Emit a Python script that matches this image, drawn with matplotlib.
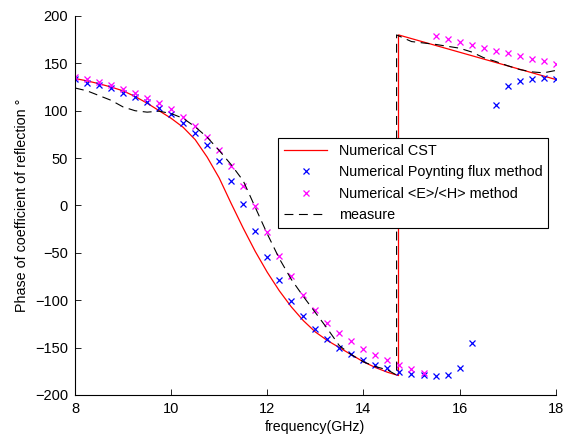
import matplotlib
matplotlib.use('Agg')
import matplotlib.pyplot as plt
import numpy as np

plt.rcParams['font.family'] = ['Liberation Sans', 'DejaVu Sans']

# marker frequencies (GHz)
freq = np.arange(8.0, 18.01, 0.25)

poynting = [133.2, 129.6, 127.2, 123.7, 119.1, 114.8, 109.6, 103.2, 96.3, 87.4,
            76.9, 63.5, 46.6, 25.9, 1.3, -26.6, -54.0, -78.6, -100.5, -116.6,
            -130.7, -141.2, -150.4, -156.7, -163.1, -168.0, -171.8, -175.4, -178.2, -179.2,
            -179.9, -178.6, -171.5, -144.8, np.nan, 106.1, 126.1, 131.7, 133.8, 134.2,
            133.2]

e_over_h = [135.9, 133.2, 130.7, 127.2, 123.0, 119.1, 113.8, 108.5, 101.6, 93.7,
            83.9, 72.0, 58.6, 41.3, 20.6, -0.5, -27.6, -53.3, -74.4, -94.5,
            -110.3, -123.7, -134.3, -143.4, -151.1, -157.5, -163.1, -168.0, -172.9, -177.1,
            179.2, 175.7, 172.6, 169.4, 166.5, 163.4, 160.6, 157.8, 154.9, 152.2,
            149.3]

# CST curve
cst_f = [8.0, 8.25, 8.5, 8.75, 9.0, 9.25, 9.5, 9.75, 10.0, 10.25, 10.5, 10.75,
         11.0, 11.25, 11.5, 11.75, 12.0, 12.25, 12.5, 12.75, 13.0, 13.25, 13.5,
         13.75, 14.0, 14.25, 14.5, 14.73, 14.73, 18.0]
cst_phase = [134, 131.5, 128.5, 125, 121, 115, 108, 100, 92, 82.5, 69.5, 51,
             29, 2, -24, -48.5, -70.5, -90, -107, -121.5, -133.5, -142.5, -150,
             -157.5, -165, -171, -176, -179.5, 180, 133]

# measurement
meas_f = [8.0, 8.25, 8.5, 8.75, 9.0, 9.25, 9.5, 9.75, 10.0, 10.25, 10.5, 10.75,
          11.0, 11.25, 11.5, 11.75, 12.0, 12.25, 12.5, 12.75, 13.0, 13.25, 13.5,
          13.75, 14.0, 14.25, 14.5, 14.69, 14.69, 15.0, 15.5, 16.0, 16.25, 16.5,
          16.75, 17.0, 17.25, 17.5, 17.75, 18.0]
meas_phase = [124, 121, 116, 111, 104, 100, 98.5, 99.5, 97, 92, 83, 72,
              58, 43, 26, -2, -30, -56, -78, -96, -113, -130, -148,
              -157.5, -165, -170, -173.5, -179, 180, 173, 170, 166, 162, 156,
              152, 147.5, 143.5, 141, 140, 142.5]

fig = plt.figure(figsize=(5.66, 4.34), dpi=100)
ax = fig.add_axes([0.1325, 0.0899, 0.8493, 0.8733])

ax.plot(cst_f, cst_phase, color='red', lw=0.9, label='Numerical CST')
ax.plot(freq, poynting, 'x', color='blue', ms=5, mew=0.9, label='Numerical Poynting flux method')
ax.plot(freq, e_over_h, 'x', color='magenta', ms=5, mew=0.9, label='Numerical <E>/<H> method')
ax.plot(meas_f, meas_phase, color='black', lw=0.8, dashes=(8, 5), label='measure')

ax.set_xlim(8, 18)
ax.set_ylim(-200, 200)
ax.set_xticks(np.arange(8, 19, 2))
ax.set_yticks(np.arange(-200, 201, 50))
ax.spines['top'].set_visible(False)
ax.spines['right'].set_visible(False)
ax.tick_params(direction='in', length=4, labelsize=10.5, width=0.6, pad=5)
for s in ['left', 'bottom']:
    ax.spines[s].set_linewidth(0.8)

ax.set_xlabel('frequency(GHz)', fontsize=10.2, labelpad=3)
ax.set_ylabel('Phase of coefficient of reflection °', fontsize=10.3, labelpad=4)

leg = ax.legend(loc='upper left', bbox_to_anchor=(0.423, 0.677), fontsize=10.4,
                fancybox=False, framealpha=1, edgecolor='black', handlelength=3.0,
                borderpad=0.4, labelspacing=0.5, handletextpad=0.8, borderaxespad=0,
                markerscale=0.8)
leg.get_frame().set_linewidth(0.8)

fig.savefig('out.png', dpi=100)
